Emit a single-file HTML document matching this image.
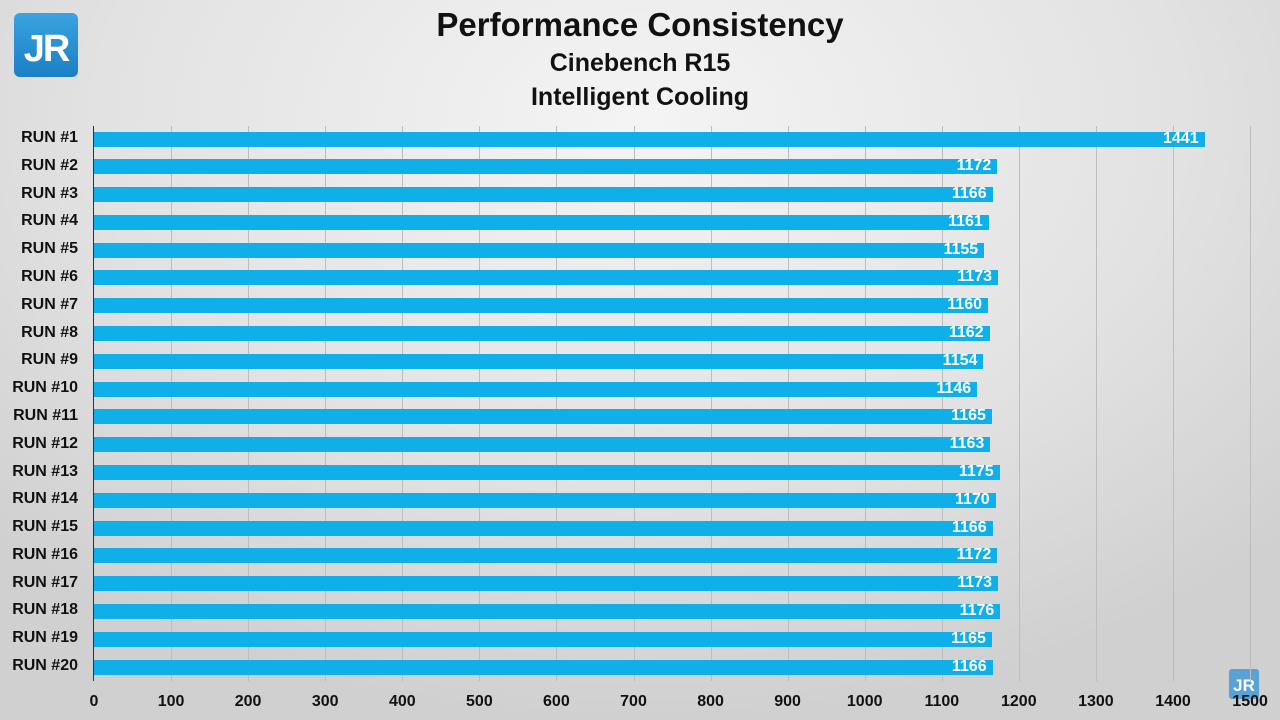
<!DOCTYPE html>
<html><head><meta charset="utf-8"><style>
body{margin:0;width:1280px;height:720px;overflow:hidden;background:radial-gradient(ellipse 900px 600px at 640px 120px,#f4f4f4 0%,#e2e2e2 60%,#d0d0d0 100%);font-family:"Liberation Sans",sans-serif;position:relative}
.t{position:absolute;left:0;width:1280px;text-align:center;font-weight:bold;color:#111}
.lab{position:absolute;left:0;width:78px;text-align:right;font-weight:bold;font-size:16px;color:#111}
.bar{position:absolute;left:94px;height:15px;background:#0fb0ea}
.bar span{position:absolute;right:6px;top:-2px;color:#fff;font-weight:bold;font-size:16px}
.g{position:absolute;top:126px;height:555px;width:1px;background:#bdbdbd}
.tk{position:absolute;top:693px;width:60px;margin-left:-30px;text-align:center;font-weight:bold;font-size:16px;color:#111}
</style></head><body>
<div class="t" style="top:6px;font-size:33px">Performance Consistency</div>
<div class="t" style="top:49px;font-size:25px">Cinebench R15</div>
<div class="t" style="top:83px;font-size:25px">Intelligent Cooling</div>
<div style="position:absolute;left:14px;top:13px;width:64px;height:64px;border-radius:6px;background:linear-gradient(#3aa3e0,#1b7fc4);color:#fff;font-weight:bold;font-size:38px;text-align:center;line-height:72px;letter-spacing:-2px">JR</div>
<div style="position:absolute;left:1229px;top:669px;width:30px;height:30px;border-radius:3px;background:#4a9fd6;color:#fff;font-weight:bold;font-size:17px;text-align:center;line-height:34px;opacity:.9">JR</div>
<div style="position:absolute;left:93px;top:126px;width:1px;height:555px;background:#333"></div>
<div id="c"></div>
<script>
var v=[1441,1172,1166,1161,1155,1173,1160,1162,1154,1146,1165,1163,1175,1170,1166,1172,1173,1176,1165,1166];
var h='',s=0.7707;
for(var i=1;i<=15;i++)h+='<div class="g" style="left:'+(94+i*100*s).toFixed(1)+'px"></div>';
for(var i=0;i<=15;i++)h+='<div class="tk" style="left:'+(94+i*100*s).toFixed(1)+'px">'+(i*100)+'</div>';
for(var i=0;i<20;i++){var y=139+i*27.79;
h+='<div class="lab" style="top:'+(y-10).toFixed(1)+'px">RUN #'+(i+1)+'</div>';
h+='<div class="bar" style="top:'+(y-7.5).toFixed(1)+'px;width:'+(v[i]*s).toFixed(1)+'px"><span>'+v[i]+'</span></div>';}
document.getElementById('c').innerHTML=h;
</script>
</body></html>
